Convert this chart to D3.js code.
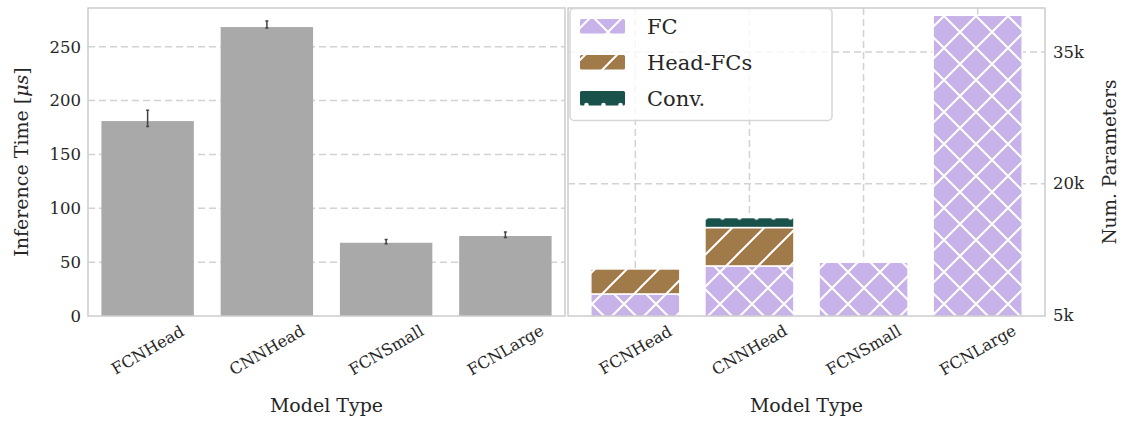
<!DOCTYPE html>
<html>
<head>
<meta charset="utf-8">
<script src="https://cdn.jsdelivr.net/npm/d3@7"></script>
<style>
  body { margin: 0; background: #fff; }
  text { font-family: 'DejaVu Serif', serif; fill: #262626; }
</style>
</head>
<body>
<svg id="chart"></svg>
<script>
const models = ['FCNHead', 'CNNHead', 'FCNSmall', 'FCNLarge'];

// inference time (mean and CI) in microseconds
const timeMean = [181, 268.3, 68, 74.3];
const timeLow = [176, 267.5, 67, 73];
const timeHigh = [191, 274, 71, 78];
const timeTicks = [0, 50, 100, 150, 200, 250];

// parameter counts, stacked
const fcParams = [7450, 10640, 11060, 39170];
const headParams = [2850, 4370, 0, 0];
const convParams = [0, 1140, 0, 0];
const paramTicks = [5000, 20000, 35000];
const paramTickLabels = ['5k', '20k', '35k'];

const legendLabels = ['FC', 'Head-FCs', 'Conv.'];

const width = 1127;
const height = 421;
const plotTop = 8;
const plotBottom = 316;

const svg = d3.select('#chart')
  .attr('width', width)
  .attr('height', height);

const defs = svg.append('defs');

// hatch patterns
function crossHatch(id, color) {
  const p = defs.append('pattern')
    .attr('id', id)
    .attr('patternUnits', 'userSpaceOnUse')
    .attr('width', 32)
    .attr('height', 32);
  p.append('rect').attr('width', 32).attr('height', 32).attr('fill', color);
  p.append('path')
    .attr('d', 'M-8,8 L8,-8 M0,32 L32,0 M24,40 L40,24 M-8,24 L8,40 M0,0 L32,32 M24,-8 L40,8')
    .attr('stroke', '#fff')
    .attr('stroke-width', 2);
}

function slashHatch(id, color) {
  const p = defs.append('pattern')
    .attr('id', id)
    .attr('patternUnits', 'userSpaceOnUse')
    .attr('width', 32)
    .attr('height', 32);
  p.append('rect').attr('width', 32).attr('height', 32).attr('fill', color);
  p.append('path')
    .attr('d', 'M-8,8 L8,-8 M0,32 L32,0 M24,40 L40,24')
    .attr('stroke', '#fff')
    .attr('stroke-width', 2);
}

function dotHatch(id, color, y0) {
  const p = defs.append('pattern')
    .attr('id', id)
    .attr('patternUnits', 'userSpaceOnUse')
    .attr('y', y0)
    .attr('width', 17)
    .attr('height', 32);
  p.append('rect').attr('width', 17).attr('height', 32).attr('fill', color);
  [0, 32].forEach(cy => {
    p.append('circle')
      .attr('cx', 8.5)
      .attr('cy', cy)
      .attr('r', 2.3)
      .attr('fill', '#fff');
  });
}

crossHatch('hatchFC', '#c7b2ea');
slashHatch('hatchHead', '#a07a48');
dotHatch('hatchConv', '#19524a', 217.5);
dotHatch('hatchConvLegend', '#19524a', 105);

// ---------- left panel ----------
const xLeft = d3.scaleBand()
  .domain(models)
  .range([88, 565])
  .paddingInner(0.225)
  .paddingOuter(0.1125);

const yLeft = d3.scaleLinear()
  .domain([0, 286])
  .range([plotBottom, plotTop]);

const left = svg.append('g');

left.selectAll('.gridLeft')
  .data(timeTicks.slice(1))
  .enter()
  .append('line')
  .attr('x1', 88)
  .attr('x2', 565)
  .attr('y1', d => yLeft(d))
  .attr('y2', d => yLeft(d))
  .attr('stroke', '#d2d2d2')
  .attr('stroke-width', 1.5)
  .attr('stroke-dasharray', '7,4');

left.selectAll('.barLeft')
  .data(models)
  .enter()
  .append('rect')
  .attr('x', d => xLeft(d))
  .attr('y', (d, i) => yLeft(timeMean[i]))
  .attr('width', xLeft.bandwidth())
  .attr('height', (d, i) => yLeft(0) - yLeft(timeMean[i]))
  .attr('fill', '#a9a9a9');

// error bars
models.forEach((m, i) => {
  const cx = xLeft(m) + xLeft.bandwidth() / 2;
  left.append('path')
    .attr('d', `M${cx},${yLeft(timeLow[i])} V${yLeft(timeHigh[i])}
      M${cx - 1.5},${yLeft(timeLow[i])} H${cx + 1.5}
      M${cx - 1.5},${yLeft(timeHigh[i])} H${cx + 1.5}`)
    .attr('stroke', '#424242')
    .attr('stroke-width', 1.5)
    .attr('fill', 'none');
});

left.append('rect')
  .attr('x', 88)
  .attr('y', plotTop)
  .attr('width', 565 - 88)
  .attr('height', plotBottom - plotTop)
  .attr('fill', 'none')
  .attr('stroke', '#cccccc')
  .attr('stroke-width', 1.5);

const yAxisLeft = d3.axisLeft(yLeft)
  .tickValues(timeTicks)
  .tickSize(0)
  .tickPadding(7);

left.append('g')
  .attr('transform', 'translate(88,0)')
  .call(yAxisLeft)
  .call(g => g.select('.domain').remove())
  .selectAll('text')
  .style('font-family', 'DejaVu Serif')
  .style('font-size', '16.5px')
  .attr('fill', '#262626');

// ---------- right panel ----------
const xRight = d3.scaleBand()
  .domain(models)
  .range([568, 1045])
  .paddingInner(0.22)
  .paddingOuter(0.2);

const yRight = d3.scaleLinear()
  .domain([5000, 40000])
  .range([315.5, plotTop]);

const right = svg.append('g');

defs.append('clipPath')
  .attr('id', 'clipRight')
  .append('rect')
  .attr('x', 568)
  .attr('y', plotTop)
  .attr('width', 1045 - 568)
  .attr('height', plotBottom - plotTop);

right.selectAll('.gridRightY')
  .data(paramTicks.slice(1))
  .enter()
  .append('line')
  .attr('x1', 568)
  .attr('x2', 1045)
  .attr('y1', d => yRight(d))
  .attr('y2', d => yRight(d))
  .attr('stroke', '#d2d2d2')
  .attr('stroke-width', 1.5)
  .attr('stroke-dasharray', '7,4');

right.selectAll('.gridRightX')
  .data(models)
  .enter()
  .append('line')
  .attr('x1', d => xRight(d) + xRight.bandwidth() / 2)
  .attr('x2', d => xRight(d) + xRight.bandwidth() / 2)
  .attr('y1', plotTop)
  .attr('y2', plotBottom)
  .attr('stroke', '#d2d2d2')
  .attr('stroke-width', 1.5)
  .attr('stroke-dasharray', '7,4');

const stacks = [
  { values: fcParams, fill: 'url(#hatchFC)' },
  { values: headParams, fill: 'url(#hatchHead)' },
  { values: convParams, fill: 'url(#hatchConv)' }
];

const barsRight = right.append('g').attr('clip-path', 'url(#clipRight)');
const base = models.map(() => 0);
stacks.forEach(s => {
  models.forEach((m, i) => {
    const v = s.values[i];
    if (v > 0) {
      const y0 = yRight(base[i]);
      const y1 = yRight(base[i] + v);
      barsRight.append('rect')
        .attr('x', xRight(m))
        .attr('y', y1)
        .attr('width', xRight.bandwidth())
        .attr('height', y0 - y1)
        .attr('fill', s.fill)
        .attr('stroke', '#fff')
        .attr('stroke-width', 1.5);
    }
    base[i] += v;
  });
});

right.append('rect')
  .attr('x', 568)
  .attr('y', plotTop)
  .attr('width', 1045 - 568)
  .attr('height', plotBottom - plotTop)
  .attr('fill', 'none')
  .attr('stroke', '#cccccc')
  .attr('stroke-width', 1.5);

const yAxisRight = d3.axisRight(yRight)
  .tickValues(paramTicks)
  .tickFormat((d, i) => paramTickLabels[i])
  .tickSize(0)
  .tickPadding(8);

right.append('g')
  .attr('transform', 'translate(1045,0)')
  .call(yAxisRight)
  .call(g => g.select('.domain').remove())
  .selectAll('text')
  .style('font-family', 'DejaVu Serif')
  .style('font-size', '16.5px')
  .attr('fill', '#262626');

// legend
const legend = svg.append('g');
legend.append('rect')
  .attr('x', 570)
  .attr('y', 8.5)
  .attr('width', 262)
  .attr('height', 112)
  .attr('rx', 4)
  .attr('fill', '#fff')
  .attr('fill-opacity', 0.8)
  .attr('stroke', '#d6d6d6')
  .attr('stroke-width', 1.5);

const legendFills = ['url(#hatchFC)', 'url(#hatchHead)', 'url(#hatchConvLegend)'];
const legendY = d3.scalePoint()
  .domain(legendLabels)
  .range([19, 91]);

legend.selectAll('.legendPatch')
  .data(legendLabels)
  .enter()
  .append('rect')
  .attr('x', 580)
  .attr('y', d => legendY(d))
  .attr('width', 45)
  .attr('height', 14.5)
  .attr('rx', 1.5)
  .attr('fill', (d, i) => legendFills[i]);

legend.selectAll('.legendText')
  .data(legendLabels)
  .enter()
  .append('text')
  .attr('x', 647)
  .attr('y', d => legendY(d) + 14.5)
  .style('font-size', '21px')
  .text(d => d);

// x tick labels, rotated
[xLeft, xRight].forEach(scale => {
  svg.append('g')
    .selectAll('text')
    .data(models)
    .enter()
    .append('text')
    .attr('transform', d => `translate(${scale(d) + scale.bandwidth() / 2},350) rotate(-30)`)
    .attr('text-anchor', 'middle')
    .attr('dy', '0.35em')
    .style('font-size', '16px')
    .text(d => d);
});

// axis titles
svg.append('text')
  .attr('x', (88 + 565) / 2)
  .attr('y', 412)
  .attr('text-anchor', 'middle')
  .style('font-size', '19px')
  .text('Model Type');

svg.append('text')
  .attr('x', (568 + 1045) / 2)
  .attr('y', 412)
  .attr('text-anchor', 'middle')
  .style('font-size', '19px')
  .text('Model Type');

const yTitle = svg.append('text')
  .attr('transform', 'translate(28,162) rotate(-90)')
  .attr('text-anchor', 'middle')
  .style('font-size', '19px');
yTitle.append('tspan').text('Inference Time [');
yTitle.append('tspan').style('font-style', 'italic').text('μs');
yTitle.append('tspan').text(']');

svg.append('text')
  .attr('transform', 'translate(1116,162) rotate(-90)')
  .attr('text-anchor', 'middle')
  .style('font-size', '18.5px')
  .text('Num. Parameters');
</script>
</body>
</html>
